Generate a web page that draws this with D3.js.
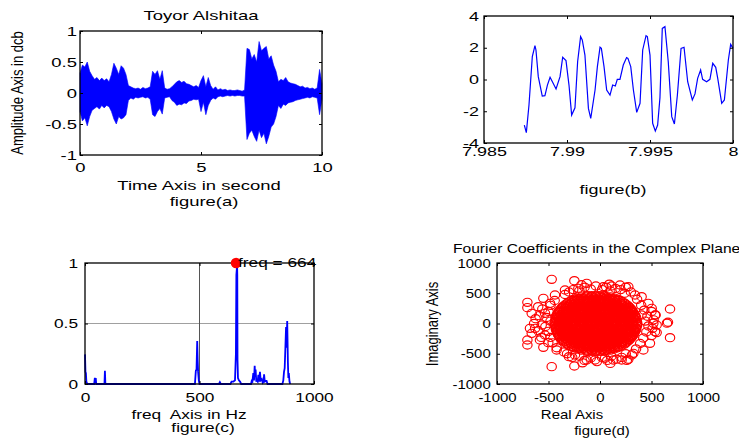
<!DOCTYPE html>
<html><head><meta charset="utf-8">
<script src="https://cdn.jsdelivr.net/npm/d3@7"></script>
<style>body{margin:0;background:#fff;} svg{display:block}</style>
</head><body><svg id="c" width="739" height="439"></svg>
<script>
const FONT = '"Liberation Sans", Arial, Helvetica, sans-serif';

// ---------- Panel (a): speech waveform envelope, sampled every 0.1 s from 0 to 10 s ----------
const waveUpper = [0.32,0.45,0.42,0.5,0.35,0.28,0.22,0.25,0.2,0.24,
  0.2,0.23,0.18,0.3,0.48,0.4,0.3,0.44,0.4,0.3,
  0.12,0.1,0.08,0.07,0.08,0.06,0.09,0.07,0.08,0.1,
  0.35,0.3,0.36,0.22,0.36,0.08,0.06,0.07,0.1,0.14,
  0.18,0.2,0.17,0.19,0.15,0.14,0.12,0.1,0.12,0.09,
  0.2,0.28,0.1,0.25,0.12,0.06,0.1,0.05,0.07,0.05,
  0.06,0.04,0.05,0.04,0.04,0.05,0.04,0.03,0.05,0.72,
  0.7,0.55,0.62,0.5,0.83,0.68,0.72,0.75,0.55,0.6,
  0.45,0.35,0.18,0.22,0.2,0.25,0.18,0.16,0.15,0.14,
  0.12,0.1,0.11,0.08,0.09,0.07,0.08,0.06,0.08,0.38,0.15];
const waveLower = [-0.3,-0.45,-0.4,-0.53,-0.38,-0.28,-0.25,-0.22,-0.26,-0.2,
  -0.24,-0.2,-0.22,-0.3,-0.42,-0.5,-0.38,-0.42,-0.4,-0.35,
  -0.12,-0.08,-0.1,-0.07,-0.08,-0.07,-0.06,-0.08,-0.07,-0.1,
  -0.35,-0.38,-0.3,-0.25,-0.34,-0.08,-0.07,-0.06,-0.12,-0.15,
  -0.2,-0.18,-0.19,-0.16,-0.17,-0.13,-0.12,-0.1,-0.11,-0.1,
  -0.3,-0.15,-0.35,-0.2,-0.12,-0.08,-0.1,-0.06,-0.05,-0.06,
  -0.05,-0.04,-0.05,-0.04,-0.05,-0.04,-0.04,-0.05,-0.05,-0.75,
  -0.65,-0.6,-0.7,-0.78,-0.6,-0.72,-0.65,-0.82,-0.7,-0.55,
  -0.5,-0.38,-0.2,-0.25,-0.18,-0.2,-0.16,-0.15,-0.14,-0.12,
  -0.11,-0.1,-0.09,-0.08,-0.07,-0.08,-0.06,-0.07,-0.08,-0.35,-0.1];
const waveTicksX = [0,5,10];
const waveTicksY = [-1,-0.5,0,0.5,1];

// ---------- Panel (b): zoom on last samples ----------
const zoomT = [7.98743,7.98755,7.98771,7.98791,7.98807,7.98813,7.98827,7.98851,7.98867,7.98882,
  7.98898,7.98912,7.98934,7.98958,7.98974,7.98994,7.99012,7.99028,7.99048,7.99064,
  7.99082,7.99092,7.99108,7.99129,7.99143,7.99169,7.99183,7.99199,7.99207,7.99223,
  7.99239,7.99259,7.99275,7.99291,7.99303,7.99319,7.99339,7.99359,7.99367,7.99384,
  7.994,7.9942,7.9944,7.99456,7.99476,7.99484,7.995,7.99516,7.99532,7.99546,
  7.9956,7.99574,7.9959,7.9961,7.99631,7.99647,7.99665,7.99687,7.99705,7.99727,
  7.99755,7.99771,7.99787,7.99805,7.99817,7.99841,7.99861,7.99878,7.99896,7.99908,
  7.99932,7.99948,7.99972,7.99986,8.0];
const zoomV = [-2.87,-3.35,-1.61,1.44,2.13,1.86,0.18,-1.04,-1.02,-0.35,
  0.14,-0.14,-0.6,0.18,1.4,1.19,-0.35,-2.24,-1.78,1.12,
  2.7,2.49,1.54,-1.82,-2.45,-0.66,0.81,2.03,1.96,0.81,
  -0.66,-0.98,-0.35,-0.41,0.01,0.01,0.91,1.38,1.33,0.81,
  -0.66,-2.07,-1.5,1.86,2.76,2.7,1.54,-2.76,-3.25,-2.87,
  -1.14,3.22,3.33,1.12,-2.34,-2.8,-0.98,1.96,2.03,-0.14,
  -1.29,-0.91,0.07,0.6,0.01,-0.14,0.01,1.02,0.77,0.07,
  -1.5,-1.29,1.23,2.22,1.96];
const zoomTicksX = [7.985,7.99,7.995,8];
const zoomTicksY = [-4,-2,0,2,4];

// ---------- Panel (c): normalised spectrum ----------
const specF = [0,2,4,6,10,40,43,45,47,49,85,87,89,480,484,487,490,492,494,497,500,
  585,589,593,635,640,648,655,659,661,663,664,665,666,668,672,677,682,
  725,728,731,735,738,741,743,745,748,750,754,757,760,764,767,772,776,780,782,785,790,793,797,
  862,866,869,872,875,878,880,883,885,886,888,890,893,896];
const specA = [0.245,0.1,0.09,0.02,0,0,0.05,0.01,0.05,0,0,0.11,0,0,0.11,0.12,0.355,0.2,0.1,0.03,0,
  0,0.015,0,0,0.02,0.02,0.03,0.25,0.9,0.95,1.0,0.9,0.2,0.05,0.03,0.02,0,
  0,0.025,0.02,0.09,0.03,0.15,0.06,0.12,0.02,0.03,0.02,0.075,0.02,0.1,0.03,0.04,0.01,0.02,0.08,0.02,0.025,0.025,0,
  0,0.03,0.1,0.13,0.3,0.47,0.3,0.52,0.3,0.18,0.05,0.09,0.02,0];
const peakFreq = 664, peakAmp = 1;
const specTicksX = [0,500,1000];
const specTicksY = [0,0.5,1];

// ---------- Panel (d): Fourier coefficients, rows of [imag, [real...]] ----------
const coreRows = [
  [20,[-440,-400,-360,-320,-280,-240,-200,-160,-120,-80,-40,0,40,80,120,160,200,240,280,320,360]],
  [60,[-425,-380,-340,-300,-260,-220,-180,-140,-100,-60,-20,20,60,100,140,180,220,260,300,340]],
  [100,[-430,-395,-355,-315,-275,-235,-195,-155,-115,-75,-35,5,45,85,125,165,205,245,285,325,350]],
  [140,[-420,-380,-340,-300,-260,-220,-180,-140,-100,-60,-20,20,60,100,140,180,220,260,300,340]],
  [180,[-405,-365,-325,-285,-245,-205,-165,-125,-85,-45,-5,35,75,115,155,195,235,275,325]],
  [220,[-390,-350,-310,-270,-230,-190,-150,-110,-70,-30,10,50,90,130,170,210,250,290,312]],
  [260,[-372,-335,-295,-255,-215,-175,-135,-95,-55,-15,25,65,105,145,185,225,265,292]],
  [300,[-345,-305,-265,-225,-185,-145,-105,-65,-25,15,55,95,135,175,215,268]],
  [340,[-315,-280,-240,-200,-160,-120,-80,-40,0,40,80,120,160,200,236]],
  [380,[-275,-240,-200,-160,-120,-80,-40,0,40,80,120,160,195]],
  [420,[-220,-180,-140,-100,-60,-20,20,60,100,140]],
  [460,[-120,-80,-40,0,40]],
  [-20,[-435,-395,-355,-315,-275,-235,-195,-155,-115,-75,-35,5,45,85,125,165,205,245,285,325,362]],
  [-60,[-420,-380,-340,-300,-260,-220,-180,-140,-100,-60,-20,20,60,100,140,180,220,260,300,345]],
  [-100,[-428,-390,-350,-310,-270,-230,-190,-150,-110,-70,-30,10,50,90,130,170,210,250,290,330,352]],
  [-140,[-418,-378,-338,-298,-258,-218,-178,-138,-98,-58,-18,22,62,102,142,182,222,262,302,338]],
  [-180,[-408,-368,-328,-288,-248,-208,-168,-128,-88,-48,-8,32,72,112,152,192,232,272,328]],
  [-220,[-392,-352,-312,-272,-232,-192,-152,-112,-72,-32,8,48,88,128,168,208,248,288,310]],
  [-260,[-370,-330,-290,-250,-210,-170,-130,-90,-50,-10,30,70,110,150,190,230,270,290]],
  [-300,[-348,-308,-268,-228,-188,-148,-108,-68,-28,12,52,92,132,172,212,265]],
  [-340,[-318,-278,-238,-198,-158,-118,-78,-38,2,42,82,122,162,202,238]],
  [-380,[-272,-236,-196,-156,-116,-76,-36,4,44,84,124,164,198]],
  [-420,[-218,-178,-138,-98,-58,-18,22,62,102,138]],
  [-460,[-118,-78,-38,2,42]],
  [0,[-440,-390,-340,-290,-240,-190,-140,-90,-40,10,60,110,160,210,260,310,360]],
  [40,[-430,-385,-335,-285,-235,-185,-135,-85,-35,15,65,115,165,215,265,315,355]],
  [80,[-425,-370,-320,-270,-220,-170,-120,-70,-20,30,80,130,180,230,280,330]],
  [120,[-415,-365,-315,-265,-215,-165,-115,-65,-15,35,85,135,185,235,285,335]],
  [160,[-410,-355,-305,-255,-205,-155,-105,-55,-5,45,95,145,195,245,295,325]],
  [200,[-400,-350,-300,-250,-200,-150,-100,-50,0,50,100,150,200,250,300]],
  [240,[-380,-330,-280,-230,-180,-130,-80,-30,20,70,120,170,220,270,300]],
  [280,[-360,-315,-265,-215,-165,-115,-65,-15,35,85,135,185,235,278]],
  [320,[-330,-290,-240,-190,-140,-90,-40,10,60,110,160,210,250]],
  [360,[-295,-255,-205,-155,-105,-55,-5,45,95,145,215]],
  [400,[-250,-210,-160,-110,-60,-10,40,90,140,170]],
  [440,[-180,-135,-85,-35,15,65,100]],
  [-40,[-432,-380,-330,-280,-230,-180,-130,-80,-30,20,70,120,170,220,270,320,358]],
  [-80,[-428,-375,-325,-275,-225,-175,-125,-75,-25,25,75,125,175,225,275,325,350]],
  [-120,[-418,-360,-310,-260,-210,-160,-110,-60,-10,40,90,140,190,240,290,338]],
  [-160,[-412,-350,-300,-250,-200,-150,-100,-50,0,50,100,150,200,250,300,328]],
  [-200,[-398,-345,-295,-245,-195,-145,-95,-45,5,55,105,155,205,255,300,318]],
  [-240,[-382,-335,-285,-235,-185,-135,-85,-35,15,65,115,165,215,265,302]],
  [-280,[-362,-310,-260,-210,-160,-110,-60,-10,40,90,140,190,240,280]],
  [-320,[-332,-285,-235,-185,-135,-85,-35,15,65,115,165,215,252]],
  [-360,[-298,-250,-200,-150,-100,-50,0,50,100,150,212]],
  [-400,[-252,-205,-155,-105,-55,-5,45,95,145,172]],
  [-440,[-182,-130,-80,-30,20,70,102]]
];
const ringPoints = [
  [-300,520],[-260,560],[-200,540],[-150,600],[-90,570],[-40,620],[20,560],[60,600],[100,540],[150,580],
  [200,560],[250,600],[300,520],[-340,480],[240,500],[-180,640],[90,650],
  [-320,-500],[-270,-560],[-200,-540],[-150,-610],[-90,-570],[-30,-630],[20,-560],[70,-610],[110,-540],
  [160,-590],[210,-560],[260,-610],[310,-520],[-350,-470],[250,-500],[-170,-650],[100,-660],
  [-480,300],[-500,200],[-520,100],[-480,40],[-530,-50],[-500,-130],[-480,-230],[-460,-320],[-560,240],
  [-590,130],[-600,-120],[-570,-230],[-440,380],[-420,-400],
  [400,300],[430,220],[460,120],[440,40],[470,-40],[450,-140],[420,-240],[390,-330],[500,200],[520,60],
  [510,-80],[500,-200],[360,400],[350,-420],[540,140],[550,-150]
];
const outerPoints = [
  [-469,730],[-469,-713],[-249,708],[-249,-702],[-705,350],[-705,-355],[-705,262],[-705,-273],[680,240],
  [650,5],[660,20],[680,-234],[-550,416],[-550,-394],[-663,168],[-663,-163],[-625,80],[-630,-80],[-640,0],
  [-680,-80],[-600,278],[-583,-273],[-485,333],[-502,-317],[-437,471],[-421,-438],[-340,554],[-301,-548],
  [-210,581],[-129,664],[-49,-603],[32,608],[49,-575],[113,620],[194,636],[210,-603],[275,608],[275,-592],
  [340,471],[404,443],[469,333],[485,-328],[534,140],[534,-135],[518,3],[421,-438],[324,-493],[129,-603],
  [-129,-603],[-243,-520],[404,140],[502,250],[550,-25],[-534,168],[-534,-190],[-566,-25],[-405,-25]
];
const cplxTicks = [-1000,-500,0,500,1000];

// ================= drawing =================
const svg = d3.select('#c');
svg.append('rect').attr('width',739).attr('height',439).attr('fill','#fff');

function txt(x, y, s, o = {}) {
  svg.append('text')
    .attr('transform', `translate(${x},${y}) scale(${o.sx || 1},1)` + (o.rot ? ` rotate(${o.rot})` : ''))
    .attr('text-anchor', o.anchor || 'middle')
    .attr('font-family', FONT).attr('font-size', o.size || 13)
    .attr('fill', '#000').style('white-space', 'pre').text(s);
}

function makePanel(c) {
  const x = d3.scaleLinear().domain(c.xDom).range([c.x0, c.x1]);
  const y = d3.scaleLinear().domain(c.yDom).range([c.y1, c.y0]);
  return {x, y, c};
}

function drawAxes(p) {
  const c = p.c, T = 3, fmt = d => String(d);
  const style = (g, sx) => {
    g.attr('font-size', 13).attr('font-family', FONT);
    g.select('.domain').remove();
    g.selectAll('line').attr('stroke', '#000');
    g.selectAll('text').attr('fill', '#000').attr('transform', `scale(${sx},1)`);
  };
  const gb = svg.append('g').attr('transform', `translate(0,${c.y1})`)
    .call(d3.axisBottom(p.x).tickValues(c.xTicks).tickFormat(fmt).tickSizeInner(-T).tickSizeOuter(0).tickPadding(c.xPad));
  style(gb, c.sx);
  const gl = svg.append('g').attr('transform', `translate(${c.x0},0)`)
    .call(d3.axisLeft(p.y).tickValues(c.yTicks).tickFormat(fmt).tickSizeInner(-T).tickSizeOuter(0).tickPadding(c.yPad / c.sx));
  style(gl, c.sx);
  const gt = svg.append('g').attr('transform', `translate(0,${c.y0})`)
    .call(d3.axisTop(p.x).tickValues(c.xTicks).tickFormat(() => '').tickSizeInner(-T).tickSizeOuter(0));
  style(gt, 1);
  const gr = svg.append('g').attr('transform', `translate(${c.x1},0)`)
    .call(d3.axisRight(p.y).tickValues(c.yTicks).tickFormat(() => '').tickSizeInner(-T).tickSizeOuter(0));
  style(gr, 1);
  svg.append('rect').attr('x', c.x0).attr('y', c.y0)
    .attr('width', c.x1 - c.x0).attr('height', c.y1 - c.y0)
    .attr('fill', 'none').attr('stroke', '#000').attr('stroke-width', 1.3);
}

// ---- (a)
const pa = makePanel({x0:80, x1:322, y0:31, y1:155, xDom:[0,10], yDom:[-1,1],
  xTicks:waveTicksX, yTicks:waveTicksY, sx:1.42, xPad:8, yPad:3});
const waveT = d3.range(waveUpper.length).map(i => i / 10);
svg.append('path').datum(waveT)
  .attr('d', d3.area().x(d => pa.x(d)).y0((d,i) => pa.y(waveLower[i])).y1((d,i) => pa.y(waveUpper[i])))
  .attr('fill', '#0000ff').attr('stroke', '#0000ff').attr('stroke-width', 0.6);
drawAxes(pa);
txt(201, 20, 'Toyor Alshitaa', {sx:1.42});
txt(199, 189.5, 'Time Axis in second', {sx:1.42});
txt(204, 206, 'figure(a)', {sx:1.42});
txt(23, 93, 'Amplitude Axis in dcb', {rot:-90, sx:1.2});

// ---- (b)
const pb = makePanel({x0:484, x1:733, y0:16, y1:143, xDom:[7.985,8], yDom:[-4,4],
  xTicks:zoomTicksX, yTicks:zoomTicksY, sx:1.38, xPad:3.7, yPad:5});
svg.append('path').datum(zoomT)
  .attr('d', d3.line().x(d => pb.x(d)).y((d,i) => pb.y(zoomV[i])))
  .attr('fill', 'none').attr('stroke', '#0000ff').attr('stroke-width', 1.2);
drawAxes(pb);
txt(613, 194, 'figure(b)', {sx:1.38});

// ---- (c)
const pc = makePanel({x0:85, x1:314, y0:263, y1:384, xDom:[0,1000], yDom:[0,1],
  xTicks:specTicksX, yTicks:specTicksY, sx:1.33, xPad:8.7, yPad:7});
svg.append('line').attr('x1', pc.x(0)).attr('x2', pc.x(1000)).attr('y1', pc.y(0.5)).attr('y2', pc.y(0.5))
  .attr('stroke', '#a0a0a0').attr('stroke-width', 1);
svg.append('line').attr('x1', pc.x(500)).attr('x2', pc.x(500)).attr('y1', pc.y(0)).attr('y2', pc.y(1))
  .attr('stroke', '#555').attr('stroke-width', 1);
svg.append('path').datum(specF)
  .attr('d', d3.line().x(d => pc.x(d)).y((d,i) => pc.y(specA[i])))
  .attr('fill', 'none').attr('stroke', '#0000ff').attr('stroke-width', 1.8);
drawAxes(pc);
svg.append('circle').attr('cx', pc.x(peakFreq) - 1).attr('cy', pc.y(peakAmp)).attr('r', 5.3).attr('fill', '#ff0000');
txt(pc.x(peakFreq) + 1, pc.y(peakAmp) + 4, 'freq = ' + peakFreq, {sx:1.33, anchor:'start'});
txt(189, 418.5, 'freq  Axis in Hz', {sx:1.33});
txt(203, 432, 'figure(c)', {sx:1.33});

// ---- (d)
const pd = makePanel({x0:497, x1:703, y0:263, y1:384, xDom:[-1000,1000], yDom:[-1000,1000],
  xTicks:cplxTicks, yTicks:cplxTicks, sx:1.15, xPad:8.7, yPad:6.3});
const allPts = [];
coreRows.forEach(([im, res]) => res.forEach(re => allPts.push([re, im])));
ringPoints.forEach(p => allPts.push(p));
outerPoints.forEach(p => allPts.push(p));
svg.append('g').selectAll('ellipse').data(allPts).join('ellipse')
  .attr('cx', d => pd.x(d[0])).attr('cy', d => pd.y(d[1]))
  .attr('rx', 4.7).attr('ry', 4.1)
  .attr('fill', 'none').attr('stroke', '#ff0000').attr('stroke-width', 1.15);
drawAxes(pd);
txt(453, 253, 'Fourier Coefficients in the Complex Plane', {sx:1.2, anchor:'start'});
txt(572, 418.5, 'Real Axis', {sx:1.15});
txt(602, 435, 'figure(d)', {sx:1.15});
txt(438, 324, 'Imaginary Axis', {rot:-90, sx:1.2});
</script>
</body></html>
